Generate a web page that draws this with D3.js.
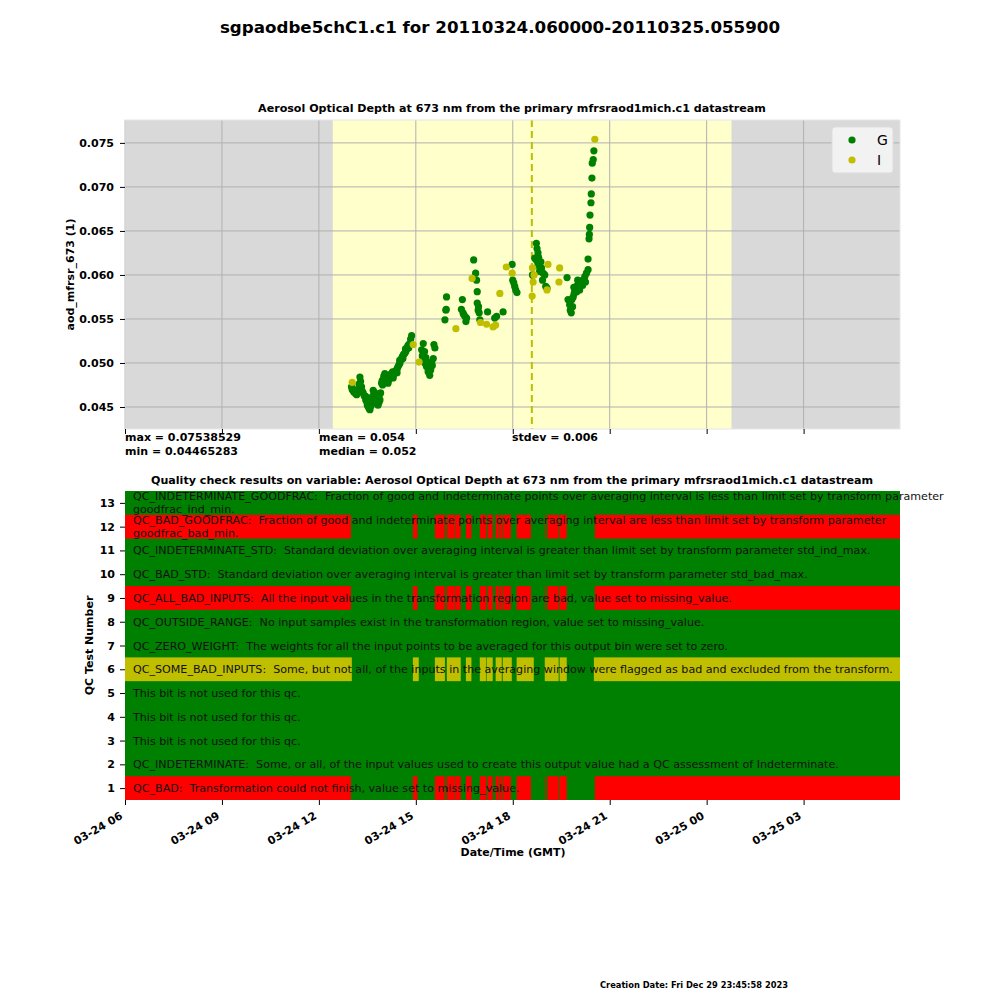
<!DOCTYPE html>
<html>
<head>
  <meta charset="utf-8">
  <script src="https://d3js.org/d3.v7.min.js"></script>
  <style>
    body { margin: 0; background: #fff; }
    text { font-family: "DejaVu Sans", sans-serif; }
  </style>
</head>
<body>
<div id="chart"></div>
<script>
// hours counted from 2011-03-24 00:00 GMT
var greenHours = [13.01,13.03,13.06,13.08,13.11,13.14,13.17,13.19,13.22,13.24,13.27,13.29,13.32,13.34,13.37,13.40,13.42,13.45,13.48,13.50,
  13.53,13.56,13.58,13.61,13.63,13.66,13.68,13.71,13.73,13.76,13.78,13.81,13.83,13.86,13.89,13.91,13.94,13.96,13.99,14.01,
  14.04,14.06,14.09,14.12,14.14,14.17,14.20,14.22,14.25,14.27,14.30,14.32,14.35,14.38,14.40,14.43,14.45,14.48,14.51,14.53,
  14.56,14.58,14.61,14.63,14.66,14.69,14.71,14.74,14.76,14.79,14.81,14.84,14.87,
  13.45,13.52,13.60,13.86,13.97,14.10,14.28,14.42,14.50,14.60,14.68,14.78,
  15.18,15.20,15.23,15.25,15.27,15.28,15.31,15.33,15.36,15.38,15.41,15.43,15.46,15.49,15.51,15.54,15.56,15.59,
  15.90,15.93,15.94,15.95,
  16.41,16.44,16.46,16.48,16.52,16.55,16.57,
  16.79,16.85,16.88,16.90,16.90,16.93,16.94,16.96,16.98,
  17.22,17.44,17.50,17.70,
  17.98,18.00,18.03,18.06,18.09,18.13,
  18.61,18.68,18.73,18.75,18.78,18.73,18.78,18.80,18.83,18.87,18.89,18.83,18.92,18.94,18.99,19.02,19.06,
  19.68,19.71,19.76,19.78,19.81,19.83,19.85,19.87,19.89,19.90,19.92,19.97,19.98,20.01,20.02,20.07,20.07,20.12,20.16,20.17,
  20.23,20.25,20.28,20.33,20.33,20.36,20.37,20.38,20.39,20.42,20.43,20.45,20.46,20.49,20.51];
var greenValues = [0.0473,0.0470,0.0469,0.0467,0.0467,0.0465,0.0464,0.0466,0.0471,0.0476,0.0484,0.0479,0.0473,0.0468,0.0466,0.0463,0.0462,0.0458,0.0456,0.0452,
  0.0450,0.0448,0.0447,0.0451,0.0454,0.0462,0.0469,0.0467,0.0466,0.0458,0.0454,0.0456,0.0452,0.0455,0.0458,0.0466,0.0477,0.0480,0.0481,0.0485,
  0.0488,0.0486,0.0484,0.0481,0.0477,0.0481,0.0484,0.0487,0.0488,0.0485,0.0483,0.0487,0.0490,0.0491,0.0492,0.0494,0.0496,0.0498,0.0500,0.0503,
  0.0505,0.0507,0.0509,0.0510,0.0511,0.0513,0.0515,0.0518,0.0520,0.0521,0.0522,0.0527,0.0531,
  0.0462,0.0455,0.0456,0.0462,0.0475,0.0479,0.0490,0.0489,0.0503,0.0505,0.0516,0.0517,
  0.0515,0.0508,0.0522,0.0507,0.0513,0.0500,0.0506,0.0496,0.0501,0.0490,0.0494,0.0486,0.0492,0.0500,0.0497,0.0505,0.0521,0.0517,
  0.0549,0.0560,0.0561,0.0575,
  0.0561,0.0572,0.0557,0.0555,0.0553,0.0547,0.0551,
  0.0617,0.0602,0.0594,0.0581,0.0568,0.0560,0.0564,0.0557,0.0549,
  0.0558,0.0551,0.0553,0.0558,
  0.0612,0.0594,0.0591,0.0587,0.0583,0.0580,
  0.0600,0.0619,0.0636,0.0630,0.0625,0.0617,0.0613,0.0620,0.0609,0.0615,0.0608,0.0604,0.0594,0.0602,0.0600,0.0587,0.0585,
  0.0597,0.0572,0.0566,0.0560,0.0557,0.0572,0.0564,0.0575,0.0586,0.0579,0.0583,0.0587,0.0581,0.0594,0.0589,0.0591,0.0583,0.0592,0.0588,0.0594,
  0.0598,0.0592,0.0602,0.0606,0.0618,0.0641,0.0646,0.0654,0.0668,0.0682,0.0692,0.0710,0.0727,0.0731,0.0741];
var yellowHours = [13.03,14.92,15.10,16.24,16.74,17.00,17.19,17.39,17.47,17.60,17.80,17.98,18.60,18.61,18.63,18.66,19.06,19.09,19.43,19.45,20.54];
var yellowValues = [0.0478,0.0521,0.0501,0.0539,0.0596,0.0546,0.0544,0.0541,0.0543,0.0579,0.0609,0.0602,0.0576,0.0608,0.0592,0.0600,0.0583,0.0612,0.0592,0.0608,0.0754];

var dayStart = 12.43, dayEnd = 24.77, solarNoon = 18.59;
var yTicks = [0.045, 0.050, 0.055, 0.060, 0.065, 0.070, 0.075];

var statsMax = "max = 0.07538529", statsMin = "min = 0.04465283";
var statsMean = "mean = 0.054", statsMedian = "median = 0.052", statsStdev = "stdev = 0.006";

// QC segments (hours) where the test failed
var badSegments = [[6.00,12.99],[14.91,15.05],[15.59,15.90],[15.96,16.21],[16.23,16.39],[16.55,16.72],[16.98,17.17],[17.21,17.38],
  [17.47,17.58],[17.60,17.66],[17.69,17.94],[18.12,18.56],[19.01,19.03],[19.07,19.42],[19.45,19.67],[20.54,30.0]];
var indSegments = [[6.00,13.02],[14.91,15.09],[15.59,15.90],[15.96,16.39],[16.55,16.72],[16.98,17.17],[17.19,17.38],[17.47,17.66],
  [17.69,17.97],[18.12,18.65],[18.99,19.42],[19.45,19.67],[20.51,30.0]];
var badRows = [1, 9, 12];
var indRows = [6];
var qcLabels = [
  ["QC_BAD:  Transformation could not finish, value set to missing_value."],
  ["QC_INDETERMINATE:  Some, or all, of the input values used to create this output value had a QC assessment of Indeterminate."],
  ["This bit is not used for this qc."],
  ["This bit is not used for this qc."],
  ["This bit is not used for this qc."],
  ["QC_SOME_BAD_INPUTS:  Some, but not all, of the inputs in the averaging window were flagged as bad and excluded from the transform."],
  ["QC_ZERO_WEIGHT:  The weights for all the input points to be averaged for this output bin were set to zero."],
  ["QC_OUTSIDE_RANGE:  No input samples exist in the transformation region, value set to missing_value."],
  ["QC_ALL_BAD_INPUTS:  All the input values in the transformation region are bad, value set to missing_value."],
  ["QC_BAD_STD:  Standard deviation over averaging interval is greater than limit set by transform parameter std_bad_max."],
  ["QC_INDETERMINATE_STD:  Standard deviation over averaging interval is greater than limit set by transform parameter std_ind_max."],
  ["QC_BAD_GOODFRAC:  Fraction of good and indeterminate points over averaging interval are less than limit set by transform parameter", "goodfrac_bad_min."],
  ["QC_INDETERMINATE_GOODFRAC:  Fraction of good and indeterminate points over averaging interval is less than limit set by transform parameter", "goodfrac_ind_min."]
];

var GREEN = "#008000", YEL = "#bfbf00", RED = "#ff0000";

function t(h) { return new Date(Date.UTC(2011, 2, 24) + h * 3600000); }

var svg = d3.select("#chart").append("svg").attr("width", 1000).attr("height", 1000);

var left = 125, right = 900;
var x = d3.scaleUtc().domain([t(6), t(29 + 59/60)]).range([left, right]);
var xTicks = d3.range(6, 30, 3).map(t);

// titles
svg.append("text").attr("x", 500).attr("y", 33).attr("text-anchor", "middle")
  .style("font-size", "16.7px").style("font-weight", "bold")
  .text("sgpaodbe5chC1.c1 for 20110324.060000-20110325.055900");

// ---------------- top plot ----------------
var top1 = 120, bot1 = 429;
var y = d3.scaleLinear().domain([0.0425, 0.0776]).range([bot1, top1]);

svg.append("text").attr("x", 512).attr("y", 112).attr("text-anchor", "middle")
  .style("font-size", "11.1px").style("font-weight", "bold")
  .text("Aerosol Optical Depth at 673 nm from the primary mfrsraod1mich.c1 datastream");

svg.append("rect").attr("x", left).attr("y", top1).attr("width", right - left).attr("height", bot1 - top1)
  .attr("fill", "#d9d9d9");
svg.append("rect").attr("x", x(t(dayStart))).attr("y", top1)
  .attr("width", x(t(dayEnd)) - x(t(dayStart))).attr("height", bot1 - top1)
  .attr("fill", "#ffffcc");

// grid
var grid = svg.append("g").attr("stroke", "#b0b0b0").attr("stroke-width", 1);
xTicks.forEach(function (d) {
  grid.append("line").attr("x1", x(d)).attr("x2", x(d)).attr("y1", top1).attr("y2", bot1);
});
yTicks.forEach(function (d) {
  grid.append("line").attr("x1", left).attr("x2", right).attr("y1", y(d)).attr("y2", y(d));
});

svg.append("line").attr("x1", x(t(solarNoon))).attr("x2", x(t(solarNoon)))
  .attr("y1", top1).attr("y2", bot1)
  .attr("stroke", YEL).attr("stroke-width", 2).attr("stroke-dasharray", "7,4");

svg.append("rect").attr("x", left).attr("y", top1).attr("width", right - left).attr("height", bot1 - top1)
  .attr("fill", "none").attr("stroke", "#e6e6e6");

var dots = svg.append("g");
dots.selectAll(".g").data(greenHours).enter().append("circle")
  .attr("cx", function (d) { return x(t(d)); })
  .attr("cy", function (d, i) { return y(greenValues[i]); })
  .attr("r", 3.6).attr("fill", GREEN);
dots.selectAll(".i").data(yellowHours).enter().append("circle")
  .attr("cx", function (d) { return x(t(d)); })
  .attr("cy", function (d, i) { return y(yellowValues[i]); })
  .attr("r", 3.6).attr("fill", YEL);

var yAx = svg.append("g").attr("transform", "translate(" + left + ",0)")
  .call(d3.axisLeft(y).tickValues(yTicks).tickFormat(d3.format(".3f")).tickSize(5).tickPadding(6));
var xAx1 = svg.append("g").attr("transform", "translate(0," + bot1 + ")")
  .call(d3.axisBottom(x).tickValues(xTicks).tickFormat("").tickSize(5));
[yAx, xAx1].forEach(function (a) {
  a.select(".domain").remove();
  a.selectAll("text").style("font-size", "11px").style("font-weight", "bold")
    .style("font-family", "DejaVu Sans");
});

svg.append("text").attr("transform", "translate(74," + ((top1 + bot1) / 2) + ") rotate(-90)")
  .attr("text-anchor", "middle").style("font-size", "11px").style("font-weight", "bold")
  .text("aod_mfrsr_673 (1)");

// legend
var lg = svg.append("g");
lg.append("rect").attr("x", 832).attr("y", 127).attr("width", 61).attr("height", 46).attr("rx", 3)
  .attr("fill", "#f2f2f2").attr("stroke", "#dddddd");
lg.append("circle").attr("cx", 852).attr("cy", 140).attr("r", 3.6).attr("fill", GREEN);
lg.append("circle").attr("cx", 852).attr("cy", 160).attr("r", 3.6).attr("fill", YEL);
lg.append("text").attr("x", 877).attr("y", 145).style("font-size", "14px").text("G");
lg.append("text").attr("x", 877).attr("y", 165).style("font-size", "14px").text("I");

// stats
function stat(xp, yp, s) {
  svg.append("text").attr("x", xp).attr("y", yp).style("font-size", "11px").style("font-weight", "bold").text(s);
}
stat(125, 441, statsMax); stat(125, 455, statsMin);
stat(319, 441, statsMean); stat(319, 455, statsMedian);
stat(512, 441, statsStdev);

// ---------------- QC plot ----------------
var top2 = 491, bot2 = 800;
var yq = d3.scaleLinear().domain([0.5, 13.5]).range([bot2, top2]);
var rowH = yq(0) - yq(1);

svg.append("text").attr("x", 512).attr("y", 484).attr("text-anchor", "middle")
  .style("font-size", "11.1px").style("font-weight", "bold")
  .text("Quality check results on variable: Aerosol Optical Depth at 673 nm from the primary mfrsraod1mich.c1 datastream");

var qc = svg.append("g");
qc.append("rect").attr("x", left).attr("y", top2).attr("width", right - left).attr("height", bot2 - top2)
  .attr("fill", GREEN);
function drawRows(rows, segs, col) {
  rows.forEach(function (r) {
    qc.selectAll(null).data(segs).enter().append("rect")
      .attr("x", function (d) { return x(t(d[0])); })
      .attr("width", function (d) { return Math.min(x(t(d[1])), right) - x(t(d[0])); })
      .attr("y", yq(r + 0.5)).attr("height", rowH)
      .attr("fill", col);
  });
}
drawRows(badRows, badSegments, RED);
drawRows(indRows, indSegments, YEL);

qcLabels.forEach(function (lines, i) {
  var cy = yq(i + 1);
  var txt = svg.append("text").attr("x", 133).attr("y", cy)
    .attr("xml:space", "preserve").style("white-space", "pre")
    .style("font-size", "11.1px").attr("fill", "#111");
  lines.forEach(function (s, j) {
    txt.append("tspan").attr("x", 133)
      .attr("y", cy + (lines.length === 1 ? 4 : (j === 0 ? -2.5 : 10)))
      .text(s);
  });
});

var qAx = svg.append("g").attr("transform", "translate(" + left + ",0)")
  .call(d3.axisLeft(yq).tickValues(d3.range(1, 14)).tickFormat(d3.format("d")).tickSize(5).tickPadding(5));
var xAx2 = svg.append("g").attr("transform", "translate(0," + bot2 + ")")
  .call(d3.axisBottom(x).tickValues(xTicks).tickFormat(d3.utcFormat("%m-%d %H")).tickSize(5));
[qAx, xAx2].forEach(function (a) {
  a.select(".domain").remove();
  a.selectAll("text").style("font-size", "11px").style("font-weight", "bold")
    .style("font-family", "DejaVu Sans");
});
xAx2.selectAll("text").attr("text-anchor", "end").attr("dy", null).attr("y", 0)
  .attr("transform", "translate(-2,18) rotate(-30)");

svg.append("text").attr("transform", "translate(93," + ((top2 + bot2) / 2) + ") rotate(-90)")
  .attr("text-anchor", "middle").style("font-size", "11px").style("font-weight", "bold")
  .text("QC Test Number");
svg.append("text").attr("x", 513).attr("y", 856).attr("text-anchor", "middle")
  .style("font-size", "11px").style("font-weight", "bold").text("Date/Time (GMT)");

svg.append("text").attr("x", 600).attr("y", 988)
  .style("font-size", "8.3px").style("font-weight", "bold")
  .text("Creation Date: Fri Dec 29 23:45:58 2023");
</script>
</body>
</html>
